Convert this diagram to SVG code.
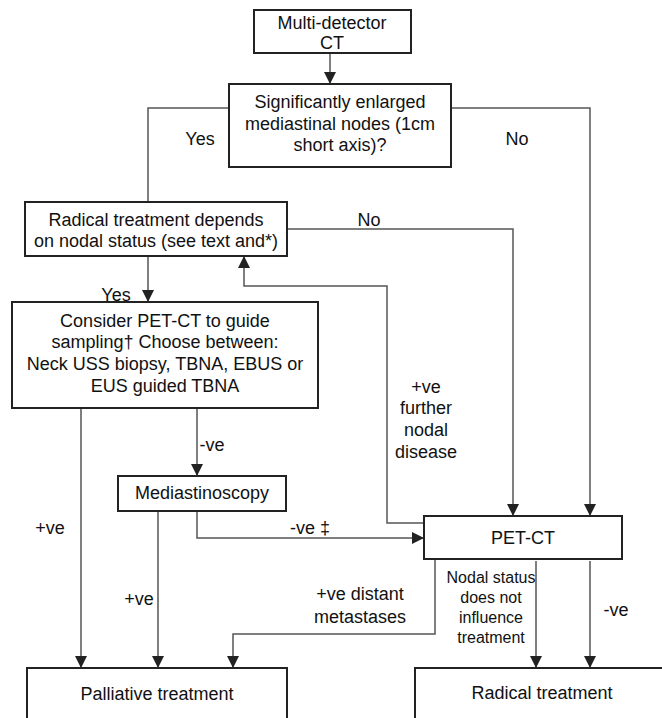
<svg xmlns="http://www.w3.org/2000/svg" width="662" height="718" viewBox="0 0 662 718">
<style>
.box{fill:#fff;stroke:#222;stroke-width:2}
.t{font-family:"Liberation Sans",Arial,sans-serif;font-size:18px;fill:#111;text-anchor:middle}
.s{font-size:16px}
.c{fill:none;stroke:#555;stroke-width:1.5}
</style>
<defs>
<marker id="ah" markerUnits="userSpaceOnUse" markerWidth="12" markerHeight="12" refX="10" refY="5" orient="auto" viewBox="0 0 10 10">
<path d="M0,0 L10,5 L0,10 z" fill="#222"/>
</marker>
</defs>
<rect width="662" height="718" fill="#fff"/>
<g id="connectors">
<path class="c" d="M330 53 V84" marker-end="url(#ah)"/>
<path class="c" d="M229 108 H148 V202"/>
<path class="c" d="M451 108 H590 V516" marker-end="url(#ah)"/>
<path class="c" d="M287 229 H513 V516" marker-end="url(#ah)"/>
<path class="c" d="M148 256 V302" marker-end="url(#ah)"/>
<path class="c" d="M424 523 H387 V286 H244 V256" marker-end="url(#ah)"/>
<path class="c" d="M81 408 V668" marker-end="url(#ah)"/>
<path class="c" d="M197 408 V476" marker-end="url(#ah)"/>
<path class="c" d="M158 511 V668" marker-end="url(#ah)"/>
<path class="c" d="M197 511 V538 H424" marker-end="url(#ah)"/>
<path class="c" d="M435 559 V634 H233 V668" marker-end="url(#ah)"/>
<path class="c" d="M536 561 V668" marker-end="url(#ah)"/>
<path class="c" d="M590 561 V668" marker-end="url(#ah)"/>
<text class="t" x="200" y="145">Yes</text>
<text class="t" x="517" y="145">No</text>
<text class="t" x="369" y="226">No</text>
<text class="t" x="116" y="301">Yes</text>
<text class="t" x="212" y="451">-ve</text>
<text class="t" x="426" y="393">+ve</text>
<text class="t" x="426" y="414">further</text>
<text class="t" x="426" y="436">nodal</text>
<text class="t" x="426" y="458">disease</text>
<text class="t" x="50" y="534">+ve</text>
<text class="t" x="310" y="534">-ve ‡</text>
<text class="t" x="139" y="605">+ve</text>
<text class="t" x="360" y="600">+ve distant</text>
<text class="t" x="360" y="623">metastases</text>
<text class="t s" x="491" y="583">Nodal status</text>
<text class="t s" x="491" y="603">does not</text>
<text class="t s" x="491" y="623">influence</text>
<text class="t s" x="491" y="643">treatment</text>
<text class="t" x="616" y="616">-ve</text>
</g>
<g id="n1">
<rect class="box" x="254" y="10" width="157" height="43"/>
<text class="t" x="332" y="29">Multi-detector</text>
<text class="t" x="332" y="49">CT</text>
</g>
<g id="n2">
<rect class="box" x="229" y="84" width="222" height="83"/>
<text class="t" x="340" y="108">Significantly enlarged</text>
<text class="t" x="340" y="130">mediastinal nodes (1cm</text>
<text class="t" x="340" y="151">short axis)?</text>
</g>
<g id="n3">
<rect class="box" x="25" y="202" width="262" height="54"/>
<text class="t" x="156" y="226">Radical treatment depends</text>
<text class="t" x="156" y="247">on nodal status (see text and*)</text>
</g>
<g id="n4">
<rect class="box" x="12" y="302" width="306" height="106"/>
<text class="t" x="165" y="327">Consider PET-CT to guide</text>
<text class="t" x="165" y="348">sampling† Choose between:</text>
<text class="t" x="165" y="370">Neck USS biopsy, TBNA, EBUS or</text>
<text class="t" x="165" y="392">EUS guided TBNA</text>
</g>
<g id="n5">
<rect class="box" x="118" y="476" width="168" height="35"/>
<text class="t" x="202" y="499">Mediastinoscopy</text>
</g>
<g id="n6">
<rect class="box" x="424" y="516" width="198" height="43"/>
<text class="t" x="523" y="544">PET-CT</text>
</g>
<g id="n7">
<rect class="box" x="27" y="668" width="260" height="70"/>
<text class="t" x="157" y="700">Palliative treatment</text>
</g>
<g id="n8">
<rect class="box" x="415" y="668" width="270" height="70"/>
<text class="t" x="542" y="699">Radical treatment</text>
</g>
</svg>
